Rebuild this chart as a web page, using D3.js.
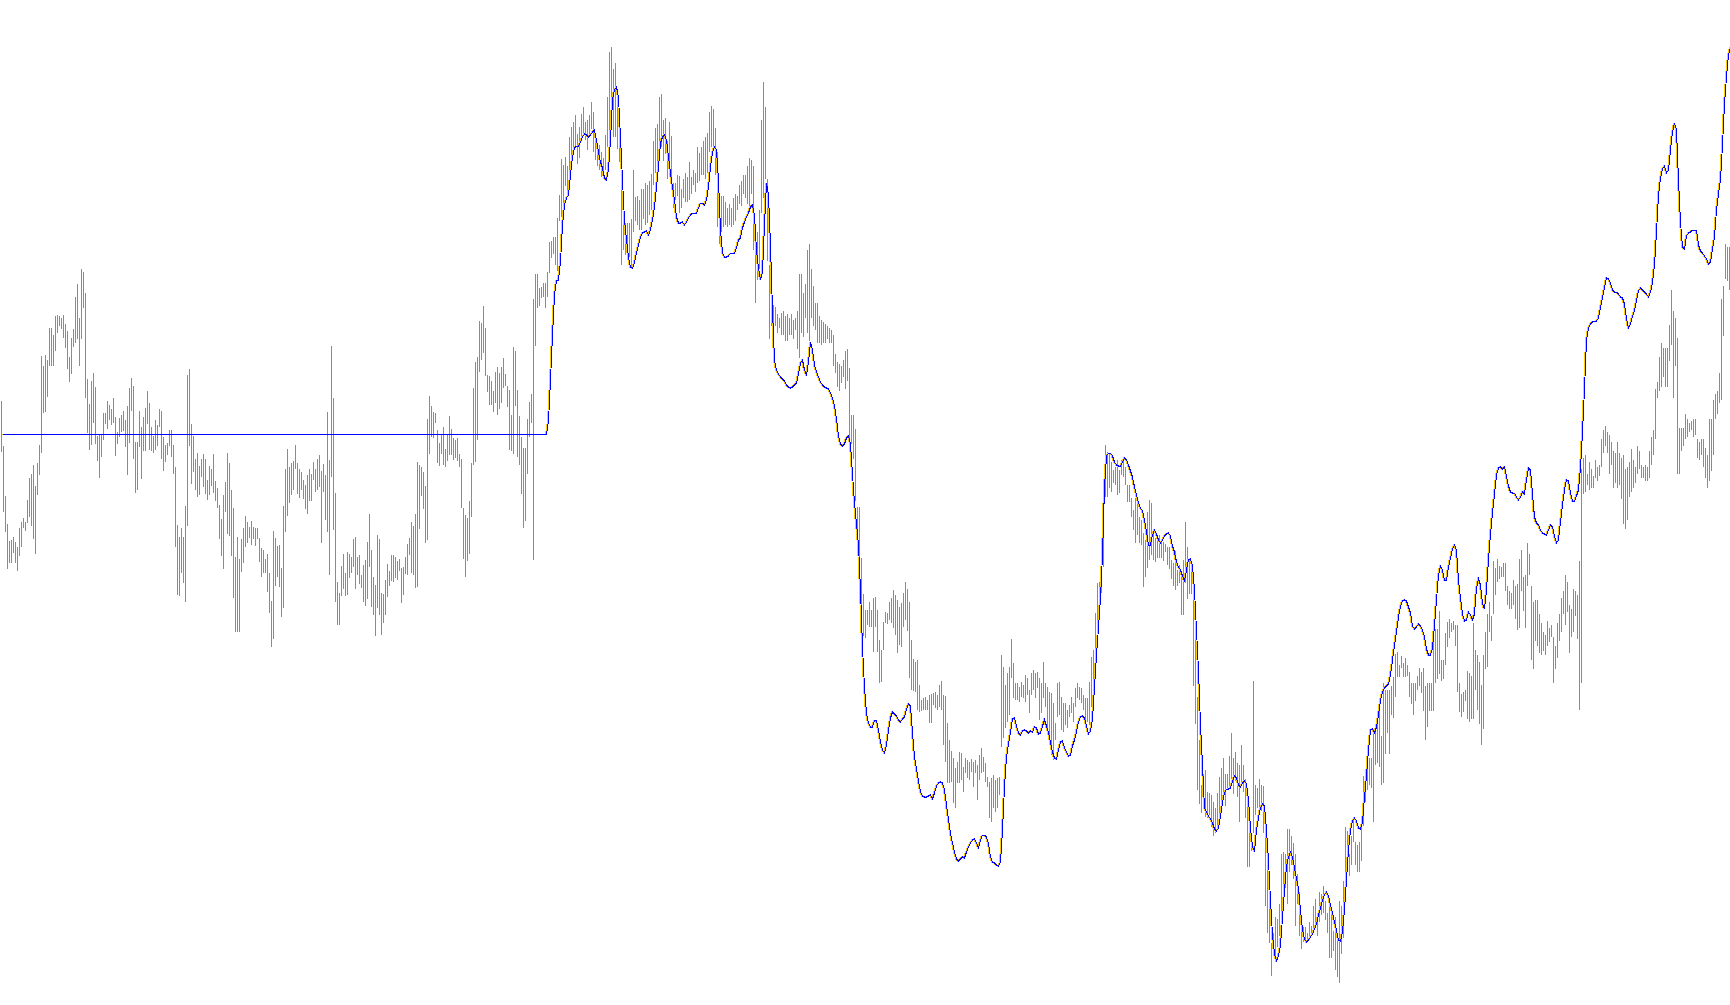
<!DOCTYPE html>
<html><head><meta charset="utf-8">
<script src="https://cdn.jsdelivr.net/npm/d3@7"></script>
<style>html,body{margin:0;padding:0;background:#ffffff;overflow:hidden}</style>
</head><body><svg id="chart" width="1730" height="1005"></svg>
<script>
// Bar highs (price points), one per bar
const barHigh = [
599,554,504,476,459,460,463,458,453,472,478,482,478,500,522,526,535,514,537,555,
644,634,645,640,672,672,665,684,685,684,682,685,676,669,643,662,671,703,716,682,
731,728,707,621,596,619,627,613,564,565,566,587,587,599,595,591,602,583,568,582,
585,589,580,594,612,622,614,558,558,589,573,583,592,609,597,573,564,580,575,591,
589,563,555,557,570,570,555,533,475,463,472,463,494,625,631,576,564,541,547,534,
541,546,541,520,534,531,546,519,512,495,481,505,518,547,537,510,492,443,463,441,
461,472,484,478,473,479,473,472,472,462,452,450,441,446,427,399,469,462,454,455,
432,494,531,551,533,537,539,555,537,531,528,520,515,525,531,526,538,531,541,545,
529,536,525,588,540,654,602,507,418,407,434,446,427,448,446,443,461,463,443,445,
425,435,440,458,486,450,423,415,465,461,407,406,420,436,429,445,445,443,439,441,
432,433,443,456,462,478,474,486,538,535,533,528,514,581,604,594,588,587,570,557,
566,573,551,565,584,571,562,560,562,546,541,492,485,482,499,537,612,638,643,679,
677,694,672,625,624,619,609,628,633,627,633,642,626,614,610,585,653,649,610,584,
563,552,552,581,598,606,701,726,726,712,713,717,717,728,758,759,763,763,782,805,
841,835,843,834,863,873,878,885,866,873,886,893,878,880,885,898,888,860,853,855,
848,842,865,903,948,953,931,937,909,878,821,781,777,777,777,781,830,803,804,800,
811,811,817,815,819,826,859,872,876,903,906,880,882,859,878,864,817,817,825,824,
811,821,827,823,838,823,830,827,853,847,853,859,863,867,888,894,891,872,848,806,
804,804,798,792,796,792,802,806,804,815,819,825,825,834,842,840,834,771,768,790,
880,918,893,821,735,701,695,693,686,682,687,689,684,686,682,686,680,682,689,726,
726,707,716,750,756,731,714,697,697,684,680,678,676,674,672,670,665,646,638,636,
634,640,649,651,632,585,585,571,493,493,442,406,390,390,398,390,402,403,390,360,
350,378,388,387,398,402,410,405,400,393,397,407,418,411,398,360,341,338,340,315,
300,302,303,300,305,306,307,308,305,315,319,305,304,277,260,249,242,232,238,248,
247,233,242,240,238,241,238,240,235,245,252,243,237,223,218,222,225,220,222,223,
345,333,315,327,333,361,337,317,317,313,318,315,325,322,310,327,330,327,328,322,
317,338,317,313,308,307,297,277,317,318,303,297,297,290,295,303,297,312,317,313,
312,305,302,302,318,343,350,387,417,418,433,487,555,548,547,538,530,533,540,530,
540,542,533,515,515,502,490,502,500,483,480,467,460,488,500,497,470,462,462,465,
458,458,456,453,453,440,437,449,430,435,423,440,478,453,440,437,403,360,303,260,
215,226,230,208,207,205,198,192,207,223,232,242,226,226,244,267,242,248,237,235,
255,235,221,201,173,162,319,215,212,221,215,214,174,139,96,57,67,83,81,96,
146,148,146,171,171,164,157,146,126,108,74,73,73,67,78,74,94,101,80,108,
106,114,99,87,98,92,69,83,60,99,94,119,173,169,146,164,181,158,155,158,
173,224,228,237,242,242,271,269,280,294,264,317,310,310,310,314,323,346,348,335,
344,337,342,335,328,317,317,317,324,332,328,332,314,317,317,317,362,371,371,389,
340,340,367,378,381,377,379,375,375,317,306,308,310,329,327,324,377,350,345,338,
315,345,368,386,398,384,439,432,441,434,433,437,437,414,409,407,420,414,416,441,
450,423,425,457,446,414,398,400,400,386,377,368,365,379,372,375,363,354,377,386,
402,409,425,418,395,391,411,409,405,439,531,542,545,526,538,531,524,540,533,535,
561,570,574,568,565,558,549,547,558,547,542,545,531,533,538,551,540,533,554,549,
535,533,535,533,549,563,570,611,618,643,657,652,652,652,675,710,689,682,662,572,
572,572,586,581,577,579,581,581,561,558,561,561,552,545,581,581,600,606,609,627,
701,714,756,753,753
];

// Bar lows (price points), one per bar
const barLow = [
548,488,468,431,437,437,447,437,429,444,453,472,469,477,483,474,461,446,505,525,
547,587,588,603,634,634,634,649,667,674,671,662,652,631,618,626,653,657,661,634,
661,692,602,567,550,555,577,556,539,522,543,560,576,571,580,575,577,544,556,563,
568,569,553,525,557,589,541,507,510,553,521,549,549,576,550,549,547,550,554,573,
541,529,538,545,554,543,526,453,405,404,427,417,398,474,554,516,528,510,503,505,
523,513,506,500,505,514,507,499,492,461,444,431,488,466,464,444,402,368,368,368,
428,437,453,457,462,455,461,454,461,438,423,427,427,408,387,353,361,414,423,413,
383,392,468,484,497,505,510,531,506,502,510,501,491,486,499,499,520,508,510,513,
457,508,480,468,425,523,470,398,375,375,404,411,404,405,422,427,433,411,425,416,
412,398,394,401,433,393,385,364,392,385,365,377,385,403,414,419,418,422,420,429,
397,405,426,425,445,427,425,412,413,471,504,491,457,460,546,563,562,577,537,534,
546,535,533,539,545,545,540,542,539,533,492,441,423,439,446,483,535,538,560,628,
640,647,624,608,595,595,588,597,585,591,597,612,614,593,550,549,546,594,543,535,
506,472,479,526,563,577,440,654,692,694,702,703,692,703,727,742,746,735,729,779,
783,789,814,803,814,839,845,854,836,842,861,865,860,850,864,871,848,840,834,830,
823,821,830,853,865,882,863,863,851,838,735,750,745,750,743,731,768,779,775,770,
770,781,775,777,785,790,815,827,834,846,853,839,846,821,836,823,792,800,804,787,
792,802,798,798,800,806,815,808,817,819,825,825,821,827,848,853,853,825,773,756,
768,773,775,773,775,773,775,779,790,796,794,806,802,796,794,806,750,697,720,731,
787,802,821,739,661,674,676,674,667,672,665,665,659,659,665,665,661,670,651,642,
667,663,682,667,659,682,674,670,657,657,655,657,657,661,657,657,634,627,613,609,
617,623,611,619,558,556,541,499,453,430,379,364,362,375,373,373,348,373,348,317,
318,350,377,376,380,377,372,365,347,355,353,373,380,369,322,310,309,308,290,288,
289,290,290,290,277,277,295,292,290,293,290,255,238,217,217,218,197,192,217,217,
220,208,227,222,220,228,213,227,200,220,227,228,218,213,182,178,192,188,192,205,
253,262,272,278,285,322,302,300,300,298,303,302,298,305,287,305,310,302,312,280,
287,302,293,270,255,245,240,260,283,285,270,268,275,272,283,287,278,293,302,300,
297,290,280,278,275,293,317,347,367,393,407,433,503,503,512,508,517,515,505,507,
525,523,515,498,498,483,470,457,465,457,455,413,423,432,440,445,440,438,442,442,
442,439,448,435,431,421,414,410,414,417,385,385,417,401,406,406,314,276,210,196,
187,194,183,182,185,173,164,167,174,182,189,201,194,212,212,221,206,219,203,178,
217,208,182,133,133,149,167,185,192,185,189,167,94,67,57,24,46,41,53,64,
82,96,112,96,128,135,121,74,96,64,51,58,57,60,60,66,71,73,64,78,
85,87,80,67,42,42,49,30,23,17,46,62,101,128,124,135,158,135,128,128,
139,174,198,210,215,212,178,235,237,233,215,217,246,267,246,285,282,303,323,323,
332,323,323,324,303,296,285,299,310,314,307,289,260,273,289,289,289,317,321,326,
319,321,335,353,362,368,370,354,308,288,283,288,299,281,278,281,281,310,290,276,
255,271,331,333,368,359,386,405,418,421,423,423,409,395,391,391,395,381,370,372,
409,389,372,414,425,340,331,359,354,347,345,349,345,354,358,363,317,331,342,359,
368,386,375,388,347,363,368,384,361,290,317,506,508,515,510,512,512,522,519,524,
533,547,554,547,526,535,512,517,512,515,501,476,471,480,503,508,512,517,526,531,
522,522,519,519,522,535,545,561,602,609,613,623,613,613,639,655,602,634,526,526,
549,554,561,563,568,570,563,565,542,540,545,533,522,512,519,529,545,581,586,597,
600,664,721,719,710
];

// Indicator line: flat level until bar 272, then per-bar values from bar 273
const signalFlatLevel = 566;
const signalFlatEndBar = 272;
const signalStartBar = 273;
const signalValues = [
579,620,665,705,719,720,738,
775,795,802,805,825,843,852,854,854,858,863,866,865,863,865,868,870,860,848,838,
832,822,820,830,860,900,910,913,903,863,820,780,760,743,733,732,737,747,755,763,
767,768,769,765,770,780,793,813,833,857,863,865,860,843,827,813,800,783,777,777,
778,775,778,782,785,787,787,787,792,797,797,795,800,813,833,848,853,850,820,770,
747,743,743,744,747,747,747,752,760,762,772,778,783,787,793,795,785,750,732,720,
728,775,817,805,755,690,640,630,626,623,621,619,615,613,612,613,615,617,626,637,
640,630,625,638,658,650,635,628,623,618,615,613,612,611,607,602,594,581,564,556,
554,556,562,564,556,526,497,476,455,410,353,313,287,277,273,273,280,280,270,258,
250,247,255,270,282,288,286,284,280,278,281,283,291,296,294,267,243,231,219,208,
204,203,203,204,205,201,207,214,217,218,217,210,195,180,167,157,148,141,139,141,
143,142,148,153,157,160,161,157,152,160,165,165,163,156,143,138,137,135,134,138,
170,213,243,256,268,281,282,274,267,265,269,270,269,267,269,268,273,272,266,267,
274,280,274,267,258,248,242,241,250,258,259,252,248,244,245,254,260,268,278,283,
284,282,274,266,269,281,313,345,372,402,445,513,544,547,547,544,538,535,534,534,
538,542,540,535,529,523,513,505,497,492,489,480,468,455,455,465,470,466,460,457,
460,464,466,467,464,454,448,438,433,430,424,419,430,440,441,434,410,370,330,275,
235,192,188,184,181,177,171,169,172,184,197,207,211,211,212,219,224,222,215,213,
217,219,216,200,172,153,149,170,182,192,196,194,170,140,100,65,46,39,44,55,
82,110,134,143,148,143,132,122,112,90,70,61,58,60,63,66,71,76,85,92,
100,105,108,104,95,87,78,70,60,59,68,90,120,150,170,179,182,179,172,171,
178,203,224,250,270,271,267,273,285,300,308,312,314,316,325,340,355,368,383,394,
399,400,399,393,387,374,371,373,376,374,370,363,351,345,345,352,374,400,425,434,
430,420,420,433,442,451,455,450,420,402,386,379,380,388,385,380,386,412,421,415,
396,391,410,440,466,487,506,525,532,533,531,533,524,514,508,507,507,503,500,503,
508,506,520,532,530,506,483,477,475,470,467,466,465,470,475,473,464,457,460,478,
495,510,520,519,507,499,499,504,510,532,568,611,660,672,676,678,679,679,682,693,
702,712,722,721,717,710,708,708,706,703,702,696,682,672,676,684,689,700,709,712,
710,708,706,703,708,717,735,768,805,822,831,834,827,830,850,868,877,870,820,778,
753,751,764,767,768,770,770,770,755,749,747,744,741,736,738,751,763,790,806,820,
855,896,923,945,953
];

const barColor = "#00ec00";
const signalColor = "#ffcc00";
const lagColor = "#0000ff";

const svg = d3.select("#chart");
svg.append("rect").attr("width", 1730).attr("height", 1005).attr("fill", "#ffffff");

const n = barHigh.length;
const x = d3.scalePoint().domain(d3.range(n)).range([1.5, 1729.5]);
const y = d3.scaleLinear().domain([0, 1000]).range([1000, 0]);

const signal = [
  {i: 0, v: signalFlatLevel},
  {i: signalFlatEndBar, v: signalFlatLevel},
  ...signalValues.map((v, k) => ({i: signalStartBar + k, v}))
];

// green high-low bars (bottom layer)
svg.append("g")
  .attr("shape-rendering", "crispEdges")
  .selectAll("line")
  .data(d3.range(n))
  .join("line")
  .attr("x1", i => x(i)).attr("x2", i => x(i))
  .attr("y1", i => y(barHigh[i]))
  .attr("y2", i => y(barLow[i]))
  .attr("stroke", barColor)
  .attr("stroke-width", 1);

// yellow line
svg.append("path")
  .datum(signal)
  .attr("fill", "none")
  .attr("stroke", signalColor)
  .attr("stroke-width", 1)
  .attr("shape-rendering", "crispEdges")
  .attr("d", d3.line().x(d => x(d.i)).y(d => y(d.v)));

// blue line, half a bar step to the right of the yellow one
const lagShift = x.step() / 2;
svg.append("path")
  .datum(signal)
  .attr("fill", "none")
  .attr("stroke", lagColor)
  .attr("stroke-width", 1)
  .attr("shape-rendering", "crispEdges")
  .attr("d", d3.line().x(d => x(d.i) + lagShift).y(d => y(d.v)));
</script>
</body></html>
